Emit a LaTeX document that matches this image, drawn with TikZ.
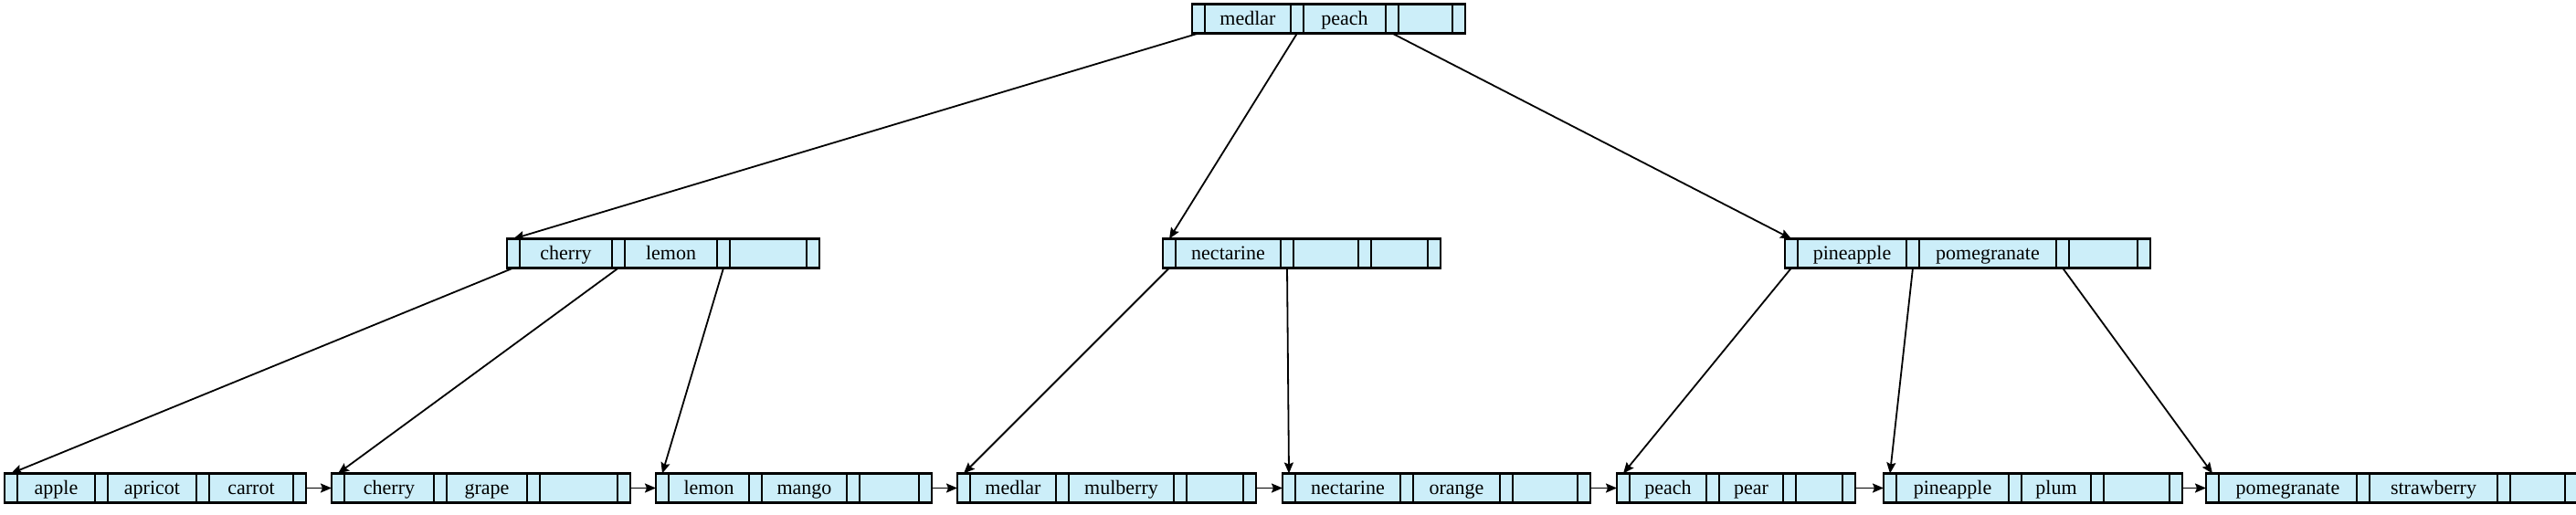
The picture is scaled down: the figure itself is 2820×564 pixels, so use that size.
\documentclass[tikz,border=0pt]{standalone}
\usepackage{fontspec}
\setmainfont{Liberation Serif}
\usetikzlibrary{arrows.meta}
\definecolor{nodefill}{RGB}{204,238,249}
\newcommand\bplusnode[9]{%
  \node[ptr, anchor=west] (#1-p0) at (#2,#3) {};
  \node[keyc, minimum width=#4pt, anchor=west] (#1-k1) at (#1-p0.east) {#5};
  \node[ptr, anchor=west] (#1-p1) at (#1-k1.east) {};
  \node[keyc, minimum width=#6pt, anchor=west] (#1-k2) at (#1-p1.east) {#7};
  \node[ptr, anchor=west] (#1-p2) at (#1-k2.east) {};
  \node[keyc, minimum width=#8pt, anchor=west] (#1-k3) at (#1-p2.east) {#9};
  \node[ptr, anchor=west] (#1-p3) at (#1-k3.east) {};
}
\tikzset{
  cellbase/.style={draw, line width=2.6pt, fill=nodefill, minimum height=32pt,
    inner sep=0pt, outer sep=0pt, font=\fontsize{22}{26}\selectfont,
    text height=18pt, text depth=4pt},
  ptr/.style={cellbase, minimum width=14pt},
  keyc/.style={cellbase},
  treeedge/.style={line width=1.8pt, -{Stealth[length=12pt,width=10pt,inset=2pt]}}
}
\begin{document}
\begin{tikzpicture}[x=1pt,y=-1pt]
\useasboundingbox (0,0) rectangle (2820,564);
% root
\bplusnode{T}{1305}{20.5}{94}{medlar}{90}{peach}{59}{}
% internal nodes
\bplusnode{A}{555}{277.5}{101}{cherry}{101}{lemon}{84}{}
\bplusnode{B}{1273}{277.5}{115}{nectarine}{71}{}{62}{}
\bplusnode{C}{1954}{277.5}{119}{pineapple}{150}{pomegranate}{75}{}
% leaves
\bplusnode{L1}{5}{534.5}{85}{apple}{97}{apricot}{92}{carrot}
\bplusnode{L2}{363}{534.5}{98}{cherry}{88}{grape}{85}{}
\bplusnode{L3}{718}{534.5}{88}{lemon}{93}{mango}{65}{}
\bplusnode{L4}{1048}{534.5}{94}{medlar}{115}{mulberry}{62}{}
\bplusnode{L5}{1404}{534.5}{115}{nectarine}{95}{orange}{71}{}
\bplusnode{L6}{1770}{534.5}{84}{peach}{70}{pear}{51}{}
\bplusnode{L7}{2062}{534.5}{123}{pineapple}{76}{plum}{72}{}
\bplusnode{L8}{2415}{534.5}{151}{pomegranate}{140}{strawberry}{60}{}
% tree edges
\draw[treeedge] (T-p0.south) -- (A-p0.north);
\draw[treeedge] (T-p1.south) -- (B-p0.north);
\draw[treeedge] (T-p2.south) -- (C-p0.north);
\draw[treeedge] (A-p0.south) -- (L1-p0.north);
\draw[treeedge] (A-p1.south) -- (L2-p0.north);
\draw[treeedge] (A-p2.south) -- (L3-p0.north);
\draw[treeedge] (B-p0.south) -- (L4-p0.north);
\draw[treeedge] (B-p1.south) -- (L5-p0.north);
\draw[treeedge] (C-p0.south) -- (L6-p0.north);
\draw[treeedge] (C-p1.south) -- (L7-p0.north);
\draw[treeedge] (C-p2.south) -- (L8-p0.north);
% leaf chain
\draw[treeedge] (L1-p3.east) -- (L2-p0.west);
\draw[treeedge] (L2-p3.east) -- (L3-p0.west);
\draw[treeedge] (L3-p3.east) -- (L4-p0.west);
\draw[treeedge] (L4-p3.east) -- (L5-p0.west);
\draw[treeedge] (L5-p3.east) -- (L6-p0.west);
\draw[treeedge] (L6-p3.east) -- (L7-p0.west);
\draw[treeedge] (L7-p3.east) -- (L8-p0.west);
\end{tikzpicture}
\end{document}
